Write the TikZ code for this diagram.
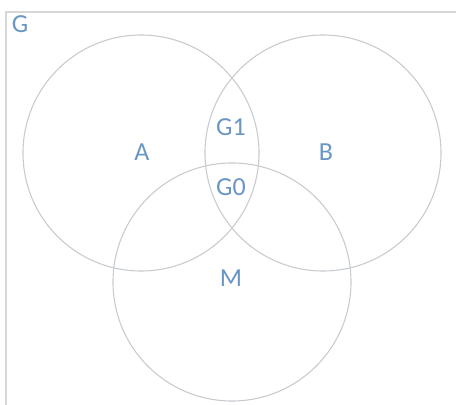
\documentclass[tikz,border=0pt]{standalone}
\usepackage{fontspec}
\setmainfont{Carlito}
\usepackage{xcolor}
\definecolor{setline}{RGB}{200,204,208}
\definecolor{settext}{RGB}{105,150,195}
\definecolor{frameline}{RGB}{215,215,215}

\begin{document}
\begin{tikzpicture}[x=1pt,y=-1pt,
		setcircle/.style={draw=setline,line width=1.1pt},
		setlabel/.style={text=settext,font=\fontsize{26}{31}\selectfont,inner sep=0pt}]
		
		\useasboundingbox (0,0) rectangle (456,405);
		
		% frame of G
		\coordinate (FL) at (6,405);
		\coordinate (FC) at (6,12);
		\coordinate (FR) at (456,12);
		\draw[frameline,line width=2pt] (FL)--(FC)--(FR);
		
		% the three sets
		\coordinate (A) at (141,153);
		\coordinate (B) at (323,153);
		\coordinate (M) at (232,282);
		
		\draw[setcircle] (A) circle (118);
		\draw[setcircle] (B) circle (118);
		\draw[setcircle] (M) circle (119);
		
		\node[setlabel] (lG) at (20,24) {G};
		\node[setlabel] (lA) at (142,152) {A};
		\node[setlabel] (lB) at (326,152) {B};
		\node[setlabel] (lG1) at (231,127) {G1};
		\node[setlabel] (lG0) at (231,187) {G0};
		\node[setlabel] (lM) at (231,278) {M};
		
	\end{tikzpicture}
\end{document}
